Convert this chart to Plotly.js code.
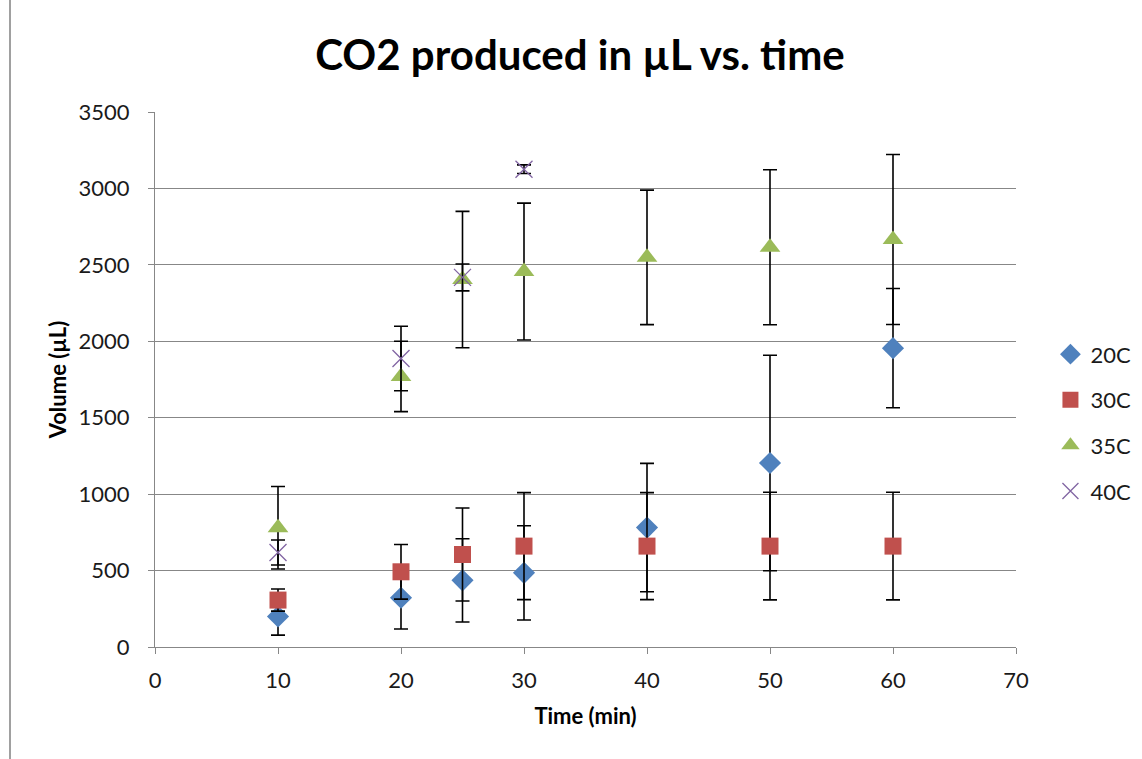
<!DOCTYPE html>
<html>
<head>
<meta charset="utf-8">
<script src="https://cdn.plot.ly/plotly-3.0.1.min.js"></script>
<style>html,body{margin:0;padding:0;background:#fff;}#chart{width:1142px;height:759px;}</style>
</head>
<body>
<div id="chart"></div>
<script>
// Data
const time = [10, 20, 25, 30, 40, 50, 60];
const time40 = [10, 20, 25, 30];

const vol20C = [200, 322, 436, 485, 781, 1204, 1955];
const err20C = [122, 204, 272, 308, 420, 705, 390];

const vol30C = [307, 492, 605, 660, 660, 660, 660];
const err30C = [72, 179, 304, 350, 350, 352, 352];

const vol35C = [780, 1770, 2404, 2456, 2549, 2615, 2666];
const err35C = [270, 230, 446, 448, 440, 507, 556];

const vol40C = [618, 1887, 2418, 3126];
const err40C = [82, 211, 88, 28];

const seriesNames = ["20C", "30C", "35C", "40C"];

const FONT = "Lato, 'Open Sans', sans-serif";

function errBar(arr) {
  return {type: "data", array: arr, visible: true, color: "#000000", thickness: 1.6, width: 7};
}

const traces = [
  {x: time, y: vol20C, error_y: errBar(err20C), name: seriesNames[0], legendgroup: "a",
   mode: "markers", type: "scatter",
   marker: {symbol: "diamond", size: 17, color: "#4F81BD"}},
  {x: time, y: vol30C, error_y: errBar(err30C), name: seriesNames[1], legendgroup: "b",
   mode: "markers", type: "scatter",
   marker: {symbol: "square", size: 17, color: "#C0504D"}},
  {x: time, y: vol35C, error_y: errBar(err35C), name: seriesNames[2], legendgroup: "c",
   mode: "markers", type: "scatter",
   marker: {symbol: "triangle-up", size: 18, color: "#9BBB59"}},
  {x: time40, y: vol40C, error_y: errBar(err40C), name: seriesNames[3], legendgroup: "d",
   mode: "markers", type: "scatter",
   marker: {symbol: "x-thin-open", size: 17, color: "#8064A2", line: {width: 1.3, color: "#8064A2"}}}
];

const axisCommon = {
  showgrid: true, gridcolor: "#878787", gridwidth: 1,
  showline: true, linecolor: "#878787", linewidth: 1,
  ticks: "outside", ticklen: 6, tickcolor: "#878787", tickwidth: 1,
  zeroline: false,
  tickfont: {family: FONT, size: 22, color: "#1a1a1a"}
};

const layout = {
  width: 1142, height: 759,
  margin: {l: 155, r: 126, t: 112, b: 112, autoexpand: false},
  paper_bgcolor: "#ffffff", plot_bgcolor: "#ffffff",
  showlegend: true,
  title: {text: "<b>CO2 produced in µL vs. time</b>", font: {family: FONT, size: 42, color: "#000"},
          x: 0.4936, xref: "paper", xanchor: "center", y: 0.9275, yref: "container", yanchor: "middle"},
  xaxis: Object.assign({}, axisCommon, {
    range: [0, 70], tick0: 0, dtick: 10, showgrid: false,
    ticklabelstandoff: 8,
    title: {text: "<b>Time (min)</b>", font: {family: FONT, size: 22, color: "#000"}, standoff: 16}
  }),
  yaxis: Object.assign({}, axisCommon, {
    range: [0, 3500], tick0: 0, dtick: 500,
    ticklabelstandoff: 14,
    title: {text: "<b>Volume (µL)</b>", font: {family: FONT, size: 22, color: "#000"}, standoff: 5}
  }),
  legend: {
    x: 1.04, xanchor: "left", y: 0.419, yanchor: "middle",
    font: {family: FONT, size: 22, color: "#1a1a1a"},
    tracegroupgap: 14, itemwidth: 30, bgcolor: "rgba(0,0,0,0)"
  },
  shapes: [
    {type: "line", xref: "paper", yref: "paper", x0: -0.1684, x1: -0.1684, y0: -0.25, y1: 1.25,
     line: {color: "#a0a0a0", width: 2}}
  ]
};

Plotly.newPlot("chart", traces, layout, {displayModeBar: false, staticPlot: true});
</script>
</body>
</html>
